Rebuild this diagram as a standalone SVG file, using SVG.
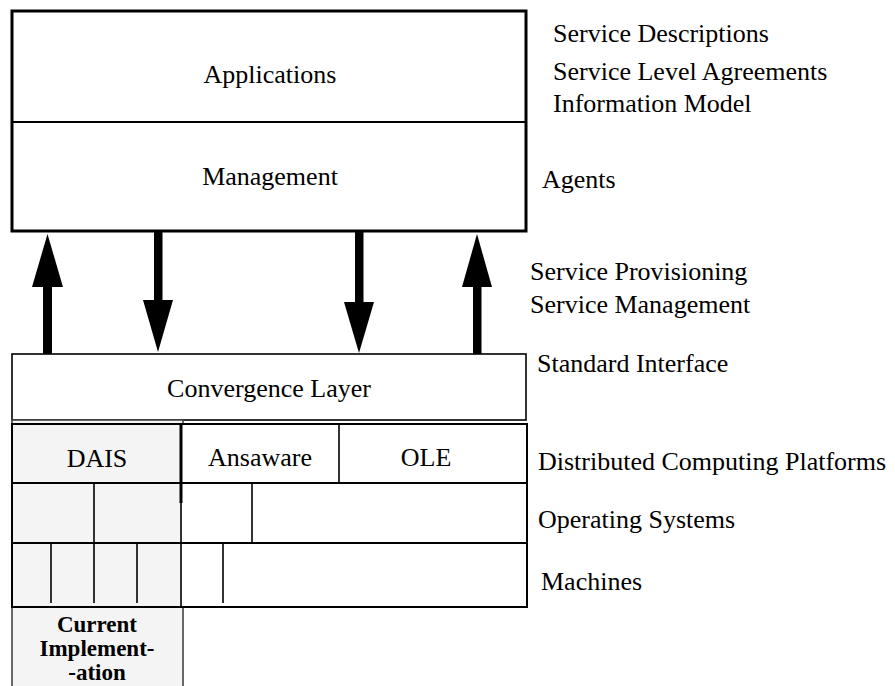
<svg xmlns="http://www.w3.org/2000/svg" width="895" height="686" viewBox="0 0 895 686">
<style>
text{font-family:"Liberation Serif","Times New Roman",serif;font-size:26px;fill:#000}
.c{text-anchor:middle}
.b{font-weight:bold;font-size:23px}
.ln{stroke:#000;stroke-width:2;fill:none}
.thin{stroke:#000;stroke-width:1.6;fill:none}
.arr{fill:#000;stroke:none}
</style>
<rect width="895" height="686" fill="#fff"/>

<g id="top-box">
<rect x="12" y="11" width="514" height="220" fill="#fff" stroke="#000" stroke-width="3"/>
<line x1="12" y1="122" x2="526" y2="122" class="ln"/>
</g>
<g id="applications"><text x="270" y="83" class="c">Applications</text></g>
<g id="management"><text x="270" y="185" class="c">Management</text></g>

<g id="convergence-layer">
<rect x="12" y="354" width="514" height="66" fill="#fff" stroke="#000" stroke-width="1.6"/>
<text x="269" y="397" class="c">Convergence Layer</text>
</g>

<g id="current-implementation">
<rect x="12" y="420" width="171" height="270" fill="#f4f4f4" stroke="#444" stroke-width="1.6"/>
<text x="97" y="632" class="c b">Current</text>
<text x="97" y="656" class="c b">Implement-</text>
<text x="97" y="680" class="c b">-ation</text>
</g>

<g id="platform-block">
<rect x="182" y="424" width="345" height="183" fill="#fff"/>
<rect x="12" y="424" width="515" height="183" class="ln"/>
<line x1="12" y1="483" x2="527" y2="483" class="ln"/>
<line x1="12" y1="543" x2="527" y2="543" class="ln"/>
<line x1="181" y1="424" x2="181" y2="503" stroke="#000" stroke-width="3"/>
<line x1="181" y1="503" x2="181" y2="607" class="thin"/>
</g>

<g id="dais"><text x="97" y="467" class="c">DAIS</text></g>
<g id="ansaware">
<line x1="339" y1="424" x2="339" y2="483" class="thin"/>
<text x="260" y="466" class="c">Ansaware</text>
</g>
<g id="ole"><text x="426" y="466" class="c">OLE</text></g>

<g id="os-row">
<line x1="94" y1="483" x2="94" y2="543" class="thin"/>
<line x1="252" y1="483" x2="252" y2="543" class="thin"/>
</g>
<g id="machines-row">
<line x1="51" y1="543" x2="51" y2="603" class="thin"/>
<line x1="94" y1="543" x2="94" y2="603" class="thin"/>
<line x1="137" y1="543" x2="137" y2="603" class="thin"/>
<line x1="223" y1="543" x2="223" y2="603" class="thin"/>
</g>

<g id="connectors">
<rect x="43" y="286" width="9" height="68" class="arr"/>
<polygon points="47.5,234 32,287 63,287" class="arr"/>
<rect x="154" y="231" width="8.5" height="70" class="arr"/>
<polygon points="158,352 143,300 173,300" class="arr"/>
<rect x="355" y="231" width="8.5" height="72" class="arr"/>
<polygon points="359,353 344,302 374,302" class="arr"/>
<rect x="473" y="286" width="8.5" height="68" class="arr"/>
<polygon points="477,234 462,287 492,287" class="arr"/>
</g>

<g id="labels">
<text x="553" y="42">Service Descriptions</text>
<text x="553" y="80">Service Level Agreements</text>
<text x="553" y="112">Information Model</text>
<text x="542" y="188">Agents</text>
<text x="530" y="280">Service Provisioning</text>
<text x="530" y="313">Service Management</text>
<text x="537" y="372">Standard Interface</text>
<text x="538" y="470">Distributed Computing Platforms</text>
<text x="538" y="528">Operating Systems</text>
<text x="541" y="590">Machines</text>
</g>
</svg>
